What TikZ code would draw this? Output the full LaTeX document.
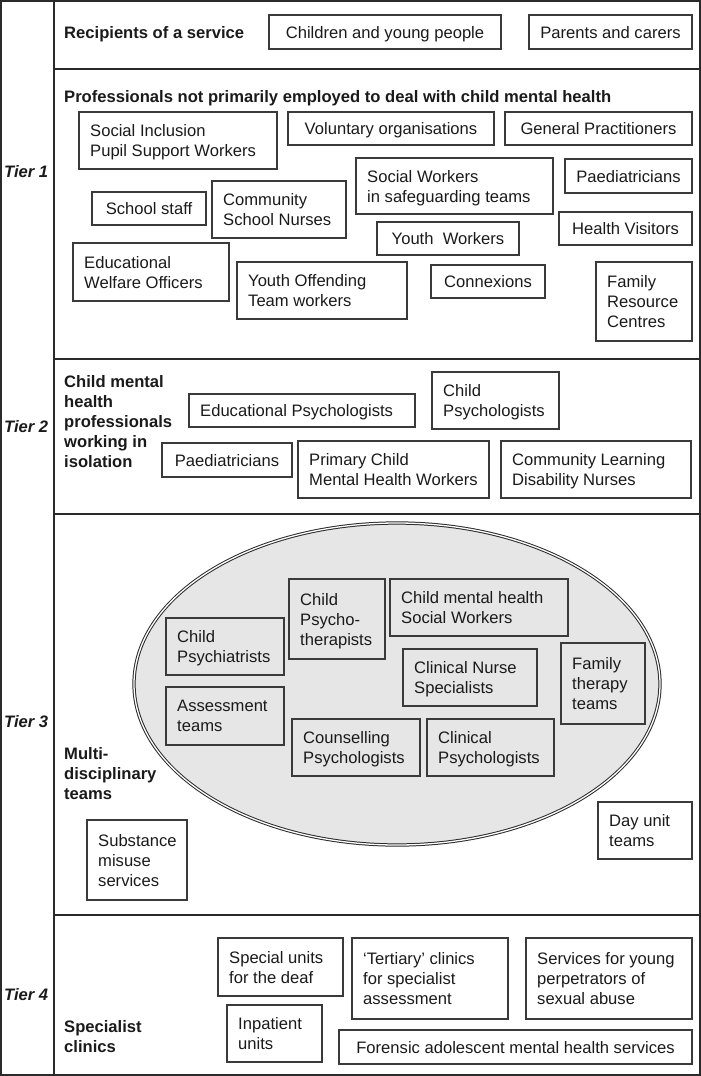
\documentclass[tikz,border=0pt]{standalone}
\usepackage{fontspec}
\setmainfont{Liberation Sans}
\usetikzlibrary{shapes.geometric}
\definecolor{ln}{HTML}{3A3A3A}
\definecolor{frm}{HTML}{2A2A2A}
\definecolor{ellfill}{HTML}{E6E6E6}
\definecolor{txc}{HTML}{1A1A1A}
\tikzset{
  fnt/.style={font=\fontsize{16.6}{20}\selectfont, text=txc, text depth=0pt},
  bx/.style={draw=ln, line width=1.2pt, inner sep=0pt, outer sep=0pt},
  cbx/.style={bx, fnt, align=center},
  tx/.style={fnt, align=left, inner sep=0pt},
  hd/.style={tx, font=\fontsize{16.6}{20}\selectfont\bfseries},
  tierlbl/.style={tx, font=\fontsize{16.6}{20}\selectfont\bfseries\itshape},
  framelines/.style={draw=frm, line width=1.6pt},
  ellbox/.style={ellipse, draw=frm, double=white, double distance=1.3pt, line width=1.0pt, fill=ellfill, inner sep=0pt}
}
% left-aligned box: name, x1, y1, x2, y2, text
\newcommand\lbox[6]{%
  \pgfmathsetmacro\bw{#4-#2}\pgfmathsetmacro\bh{#5-#3}%
  \node[bx, minimum width=\bw pt, minimum height=\bh pt, anchor=north west] (#1) at (#2,#3) {};
  \node[tx, anchor=west] (#1-t) at ([xshift=11pt]#1.west) {#6};}
% centred box
\newcommand\cbox[6]{%
  \pgfmathsetmacro\bw{#4-#2}\pgfmathsetmacro\bh{#5-#3}%
  \node[cbx, minimum width=\bw pt, minimum height=\bh pt, anchor=north west] (#1) at (#2,#3) {#6};}
\begin{document}
\begin{tikzpicture}[x=1pt,y=-1pt]
\useasboundingbox (0,0) rectangle (701,1076);
% frame
\draw[framelines] (1,1) rectangle (700,1075);
\draw[framelines] (54,1) -- (54,1075);
\draw[framelines] (54,69) -- (700,69);
\draw[framelines] (54,359) -- (700,359);
\draw[framelines] (54,514) -- (700,514);
\draw[framelines] (54,915) -- (700,915);
% tier labels
\node[tierlbl, anchor=west] (t1) at (4,171) {Tier 1};
\node[tierlbl, anchor=west] (t2) at (4,426) {Tier 2};
\node[tierlbl, anchor=west] (t3) at (4,721) {Tier 3};
\node[tierlbl, anchor=west] (t4) at (4,994) {Tier 4};
% headings
\node[hd, anchor=west] (h0) at (64,32) {Recipients of a service};
\node[hd, anchor=west] (h1) at (64,96) {Professionals not primarily employed to deal with child mental health};
\node[hd, anchor=west] (h2) at (64,421) {Child mental\\health\\professionals\\working in\\isolation};
\node[hd, anchor=west] (h3) at (64,773) {Multi-\\disciplinary\\teams};
\node[hd, anchor=west] (h4) at (64,1036) {Specialist\\clinics};
% recipients
\cbox{cyp}{269}{15}{501}{49}{Children and young people}
\cbox{pc}{529}{15}{692}{49}{Parents and carers}
% tier 1
\lbox{sipsw}{79}{112}{277}{169}{Social Inclusion\\Pupil Support Workers}
\cbox{vol}{288}{112}{494}{145}{Voluntary organisations}
\cbox{gp}{505}{112}{692}{145}{General Practitioners}
\lbox{swst}{356}{158}{553}{214}{Social Workers\\in safeguarding teams}
\cbox{paeda}{565}{159}{692}{193}{Paediatricians}
\cbox{ss}{92}{192}{206}{225}{School staff}
\lbox{csn}{212}{181}{346}{238}{Community\\School Nurses}
\cbox{yw}{377}{222}{519}{255}{Youth\ \ Workers}
\cbox{hv}{559}{212}{692}{245}{Health Visitors}
\lbox{ewo}{73}{243}{229}{301}{Educational\\Welfare Officers}
\lbox{yot}{237}{262}{407}{319}{Youth Offending\\Team workers}
\cbox{cx}{431}{265}{545}{298}{Connexions}
\lbox{frc}{596}{262}{692}{341}{Family\\Resource\\Centres}
% tier 2
\lbox{ep}{189}{394}{415}{427}{Educational Psychologists}
\lbox{cpsy}{432}{372}{559}{429}{Child\\Psychologists}
\cbox{paedb}{162}{443}{292}{477}{Paediatricians}
\lbox{pcmhw}{298}{441}{489}{498}{Primary Child\\Mental Health Workers}
\lbox{cldn}{501}{441}{691}{498}{Community Learning\\Disability Nurses}
% tier 3
\node[ellbox, minimum width=526pt, minimum height=322pt] (mdt) at (397,684) {};
\lbox{cpst}{166}{618}{284}{675}{Child\\Psychiatrists}
\lbox{cpth}{289}{579}{385}{659}{Child\\Psycho-\\therapists}
\lbox{cmhsw}{390}{579}{568}{636}{Child mental health\\Social Workers}
\lbox{cns}{403}{649}{537}{706}{Clinical Nurse\\Specialists}
\lbox{ftt}{561}{643}{645}{724}{Family\\therapy\\teams}
\lbox{at}{166}{687}{284}{745}{Assessment\\teams}
\lbox{cop}{292}{719}{420}{776}{Counselling\\Psychologists}
\lbox{clp}{427}{719}{554}{776}{Clinical\\Psychologists}
\lbox{sms}{87}{820}{187}{900}{Substance\\misuse\\services}
\lbox{dut}{598}{802}{692}{859}{Day unit\\teams}
% tier 4
\lbox{sud}{218}{938}{343}{996}{Special units\\for the deaf}
\lbox{inp}{227}{1005}{322}{1062}{Inpatient\\units}
\lbox{ter}{352}{938}{508}{1019}{‘Tertiary’ clinics\\for specialist\\assessment}
\lbox{syp}{526}{938}{692}{1019}{Services for young\\perpetrators of\\sexual abuse}
\cbox{fam}{339}{1030}{692}{1064}{Forensic adolescent mental health services}
\end{tikzpicture}
\end{document}
